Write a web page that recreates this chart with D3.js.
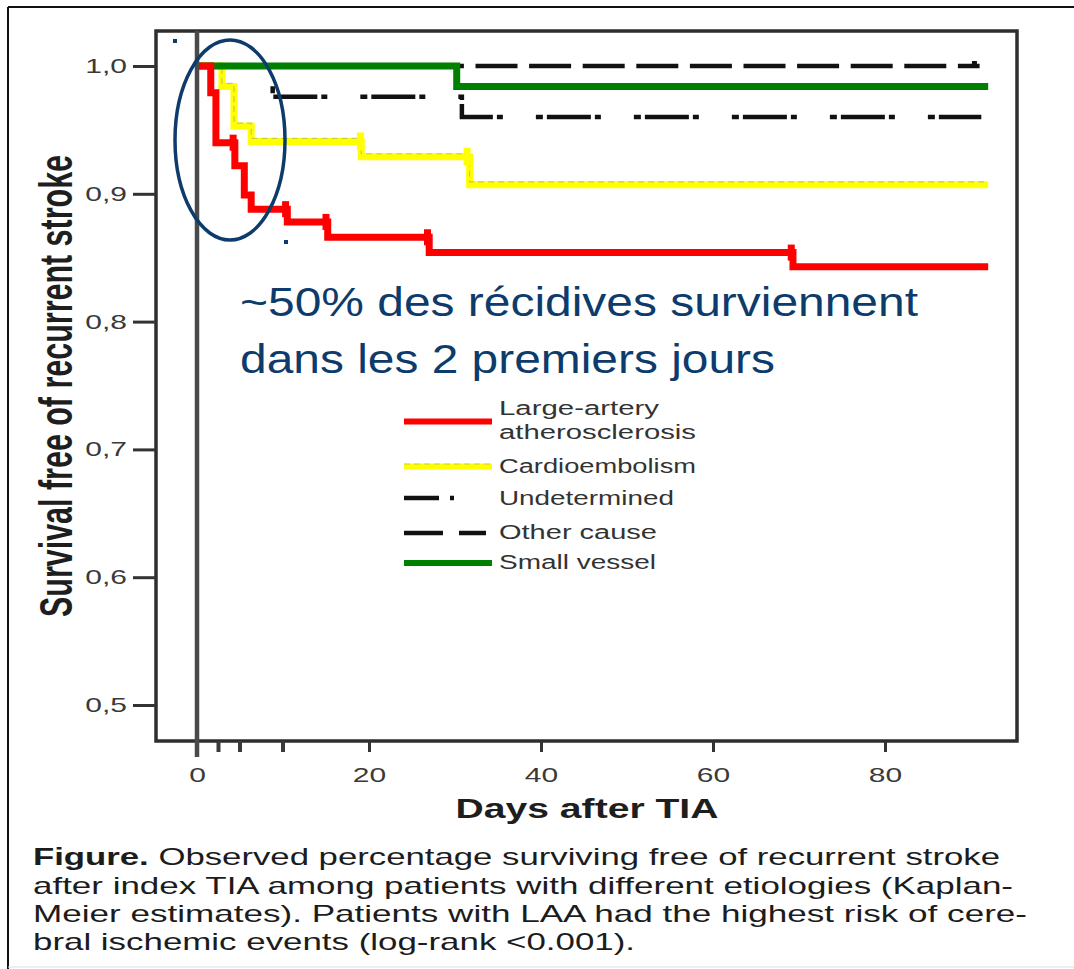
<!DOCTYPE html>
<html>
<head>
<meta charset="utf-8">
<script src="https://cdn.jsdelivr.net/npm/d3@7"></script>
<style>
  html, body { margin: 0; padding: 0; background: #fff; }
  svg { display: block; }
  text { font-family: "Liberation Sans", Arial, Helvetica, sans-serif; }
</style>
</head>
<body>
<svg id="chart" width="1074" height="969"></svg>
<script>
// Kaplan–Meier estimates: day of each event and survival after it (last entry = end of follow-up)
const laaDays   = [0, 1.6, 2.2, 4.4, 5.5, 6.3, 10.5, 15.2, 27.0, 69.3, 92];
const laaSurv   = [1.0, 0.979, 0.940, 0.922, 0.899, 0.888, 0.878, 0.866, 0.854, 0.843, 0.843];
const laaCensor = [4.2, 10.3, 15.0, 26.8, 69.1];

const ceDays    = [0, 2.9, 4.3, 6.3, 19.1, 31.7, 92];
const ceSurv    = [1.0, 0.984, 0.953, 0.941, 0.929, 0.907, 0.907];
const ceCensor  = [19.0, 31.4];

const undDays   = [0, 8.8, 30.8, 91.2];
const undSurv   = [1.0, 0.976, 0.960, 0.960];

const otherDays   = [0, 91];
const otherSurv   = [1.0, 1.0];
const otherCensor = [90.4];

const svDays    = [0, 30.2, 92];
const svSurv    = [1.0, 0.984, 0.984];

const yTicks = [0.5, 0.6, 0.7, 0.8, 0.9, 1.0];
const xTicks = [0, 20, 40, 60, 80];
const axisMarks = [2.5, 5, 10];   // short marks under the time axis

const legendLabels = [["Large-artery", "atherosclerosis"], ["Cardioembolism"], ["Undetermined"], ["Other cause"], ["Small vessel"]];
const noteLines = ["~50% des récidives surviennent", "dans les 2 premiers jours"];
const captionLines = [
  ["Figure.", " Observed percentage surviving free of recurrent stroke"],
  ["", "after index TIA among patients with different etiologies (Kaplan-"],
  ["", "Meier estimates). Patients with LAA had the highest risk of cere-"],
  ["", "bral ischemic events (log-rank <0.001)."]
];

const svg = d3.select("#chart");

// plot box and scales
const box = { left: 156, top: 31, right: 1017, bottom: 741 };
const x = d3.scaleLinear().domain([0, 100]).range([197, 1057]);
const y = d3.scaleLinear().domain([0.5, 1.0]).range([705, 66]);

// outer page frame
svg.append("line").attr("x1", 8).attr("y1", 7).attr("x2", 1074).attr("y2", 7)
  .attr("stroke", "#111").attr("stroke-width", 2);
svg.append("line").attr("x1", 8).attr("y1", 7).attr("x2", 8).attr("y2", 969)
  .attr("stroke", "#111").attr("stroke-width", 2);
svg.append("line").attr("x1", 8).attr("y1", 967).attr("x2", 1074).attr("y2", 967)
  .attr("stroke", "#ddd").attr("stroke-width", 1);

// plot frame
svg.append("rect")
  .attr("x", box.left).attr("y", box.top)
  .attr("width", box.right - box.left).attr("height", box.bottom - box.top)
  .attr("fill", "none").attr("stroke", "#2e2e2e").attr("stroke-width", 3.5);

// helpers
function fitText(sel, width) {
  sel.attr("textLength", width).attr("lengthAdjust", "spacingAndGlyphs");
  return sel;
}
const TICK_SX = 1.5;

// y axis
const yAxis = svg.append("g").attr("transform", `translate(${box.left},0)`)
  .call(d3.axisLeft(y).tickValues(yTicks).tickSize(23).tickPadding(6)
    .tickFormat(d => d3.format(".1f")(d).replace(".", ",")));
yAxis.select(".domain").remove();
yAxis.selectAll(".tick line").attr("stroke", "#333").attr("stroke-width", 3);
yAxis.selectAll(".tick text")
  .attr("font-size", 20).attr("fill", "#3a3a3a")
  .each(function () {
    const t = d3.select(this);
    const tx = +t.attr("x");
    t.attr("x", 0).attr("transform", `translate(${tx},0) scale(${TICK_SX},1)`);
  });

// x axis
const xAxis = svg.append("g").attr("transform", `translate(0,${box.bottom})`)
  .call(d3.axisBottom(x).tickValues(xTicks).tickSize(11).tickPadding(16).tickFormat(d3.format("d")));
xAxis.select(".domain").remove();
xAxis.selectAll(".tick line").attr("stroke", "#333").attr("stroke-width", 3)
  .attr("opacity", d => d === 0 ? 0 : 1);
xAxis.selectAll(".tick text")
  .attr("font-size", 20).attr("fill", "#3a3a3a")
  .each(function () {
    const t = d3.select(this);
    const ty = +t.attr("y");
    t.attr("y", 0).attr("transform", `translate(0,${ty}) scale(${TICK_SX},1)`);
  });
svg.append("g").selectAll("line").data(axisMarks).join("line")
  .attr("x1", d => x(d)).attr("x2", d => x(d))
  .attr("y1", box.bottom).attr("y2", box.bottom + 11)
  .attr("stroke", "#3a3a3a").attr("stroke-width", 4);

// axis titles
fitText(svg.append("text")
  .attr("x", 587).attr("y", 818).attr("text-anchor", "middle")
  .attr("font-size", 27).attr("font-weight", "bold").attr("fill", "#1e1e1e")
  .text("Days after TIA"), 263);

fitText(svg.append("text")
  .attr("transform", "translate(72,386) scale(1.5,1) rotate(-90)")
  .attr("text-anchor", "middle")
  .attr("font-size", 31).attr("font-weight", "bold").attr("fill", "#1e1e1e")
  .text("Survival free of recurrent stroke"), 462);

// survival curves
const stepLine = d3.line().x(d => x(d[0])).y(d => y(d[1])).curve(d3.curveStepAfter);
const zipPts = (days, surv) => days.map((d, i) => [d, surv[i]]);
function survAt(days, surv, t) {
  let v = surv[0];
  days.forEach((d, i) => { if (d <= t) v = surv[i]; });
  return v;
}
const plot = svg.append("g");

// other cause (dashed)
plot.append("path").attr("d", stepLine(zipPts(otherDays, otherSurv)))
  .attr("fill", "none").attr("stroke", "#111").attr("stroke-width", 4.5)
  .attr("stroke-dasharray", "42 11.6").attr("stroke-dashoffset", -10.5);
plot.selectAll(".oc-censor").data(otherCensor).join("line")
  .attr("x1", d => x(d)).attr("x2", d => x(d))
  .attr("y1", d => y(survAt(otherDays, otherSurv, d)) - 5)
  .attr("y2", d => y(survAt(otherDays, otherSurv, d)) + 2)
  .attr("stroke", "#111").attr("stroke-width", 5);

// undetermined (dash-dot)
plot.append("path").attr("d", stepLine(zipPts(undDays, undSurv)))
  .attr("fill", "none").attr("stroke", "#111").attr("stroke-width", 4.5)
  .attr("stroke-dasharray", "7 4 44 4 6 33").attr("stroke-dashoffset", 2);

// cardioembolism
const cePts = zipPts(ceDays, ceSurv);
plot.append("path").attr("d", stepLine(cePts))
  .attr("fill", "none").attr("stroke", "#ffff00").attr("stroke-width", 7);
plot.append("path").attr("d", stepLine(cePts)).attr("transform", "translate(0,-3)")
  .attr("fill", "none").attr("stroke", "#8c8c8c").attr("stroke-width", 1.2)
  .attr("stroke-dasharray", "6 4").attr("opacity", 0.45);
plot.selectAll(".ce-censor").data(ceCensor).join("line")
  .attr("x1", d => x(d)).attr("x2", d => x(d))
  .attr("y1", d => y(survAt(ceDays, ceSurv, d)) - 9)
  .attr("y2", d => y(survAt(ceDays, ceSurv, d)) + 9)
  .attr("stroke", "#ffff00").attr("stroke-width", 7);

// small vessel
plot.append("path").attr("d", stepLine(zipPts(svDays, svSurv)))
  .attr("fill", "none").attr("stroke", "#008000").attr("stroke-width", 7);

// large-artery atherosclerosis
plot.append("path").attr("d", stepLine(zipPts(laaDays, laaSurv)))
  .attr("fill", "none").attr("stroke", "#ff0000").attr("stroke-width", 7);
plot.selectAll(".laa-censor").data(laaCensor).join("line")
  .attr("x1", d => x(d)).attr("x2", d => x(d))
  .attr("y1", d => y(survAt(laaDays, laaSurv, d)) - 8)
  .attr("y2", d => y(survAt(laaDays, laaSurv, d)) + 8)
  .attr("stroke", "#ff0000").attr("stroke-width", 7);

// reference line at day 0
svg.append("line")
  .attr("x1", x(0)).attr("x2", x(0)).attr("y1", box.top).attr("y2", box.bottom + 16)
  .attr("stroke", "#4a4a4a").attr("stroke-width", 4.5);

// highlight around the first days
const navy = "#0d3c6c";
svg.append("ellipse").attr("cx", 230).attr("cy", 140).attr("rx", 55).attr("ry", 100)
  .attr("fill", "none").attr("stroke", navy).attr("stroke-width", 3.5);
svg.append("rect").attr("x", 173).attr("y", 39).attr("width", 4).attr("height", 4).attr("fill", navy);
svg.append("rect").attr("x", 284).attr("y", 240).attr("width", 4).attr("height", 4).attr("fill", navy);

// note
const noteY = [316, 373], noteW = [678, 535];
noteLines.forEach((s, i) => {
  fitText(svg.append("text").attr("x", 240).attr("y", noteY[i])
    .attr("font-size", 41).attr("fill", navy).text(s), noteW[i]);
});

// legend
const legendColors = ["#ff0000", "#ffff00", "#111", "#111", "#008000"];
const legendDash = [null, null, "35 11 4 200", "39 16 27 200", null];
const legendWidth = [6, 6, 4.5, 4.5, 6];
const legendLineY = [421.5, 466.5, 498, 533, 563];
const legendTextY = [[415, 439], [473], [505], [539], [569]];
const legendTextW = [[160, 197], [197], [175], [158], [157]];
const lg = svg.append("g");
legendLabels.forEach((lines, i) => {
  lg.append("line")
    .attr("x1", 404).attr("x2", 492).attr("y1", legendLineY[i]).attr("y2", legendLineY[i])
    .attr("stroke", legendColors[i]).attr("stroke-width", legendWidth[i])
    .attr("stroke-dasharray", legendDash[i]);
  if (i === 1) {
    lg.append("line")
      .attr("x1", 404).attr("x2", 492).attr("y1", legendLineY[i] - 2.5).attr("y2", legendLineY[i] - 2.5)
      .attr("stroke", "#8c8c8c").attr("stroke-width", 1.2).attr("stroke-dasharray", "6 4").attr("opacity", 0.45);
  }
  lines.forEach((s, j) => {
    fitText(lg.append("text").attr("x", 499).attr("y", legendTextY[i][j])
      .attr("font-size", 19.5).attr("fill", "#333").text(s), legendTextW[i][j]);
  });
});

// caption
const capY = [865, 894, 922, 950], capW = [967, 980, 994, 602];
captionLines.forEach((parts, i) => {
  const t = svg.append("text").attr("x", 33).attr("y", capY[i])
    .attr("font-size", 24).attr("fill", "#1c1c1c");
  if (parts[0]) t.append("tspan").attr("font-weight", "bold").text(parts[0]);
  t.append("tspan").text(parts[1]);
  fitText(t, capW[i]);
});
</script>
</body>
</html>
